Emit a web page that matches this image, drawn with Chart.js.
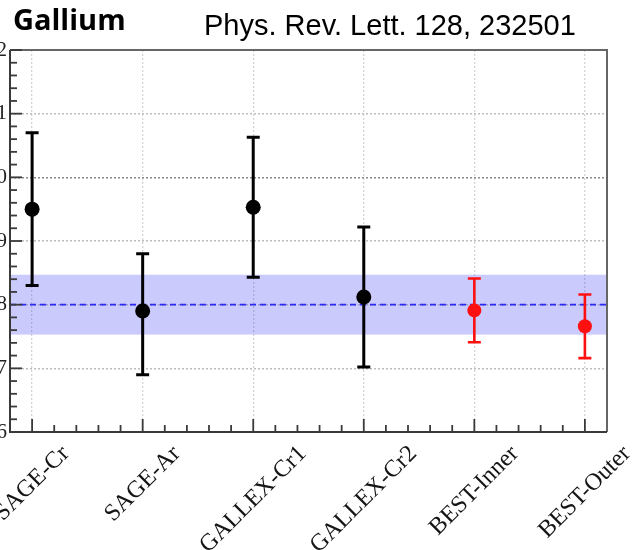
<!DOCTYPE html>
<html>
<head>
<meta charset="utf-8">
<script src="https://cdn.jsdelivr.net/npm/chart.js@4.4.1/dist/chart.umd.min.js"></script>
<style>
  html, body { margin: 0; padding: 0; background: #fff; width: 636px; height: 550px; overflow: hidden; position: relative; }
  #plot { position: absolute; left: -40px; top: 0; width: 676px; height: 550px; }
  .head { position: absolute; white-space: nowrap; color: #000; z-index: 2; }
  #title { left: 13px; top: 4px; font: bold 29px "Open Sans", "Liberation Sans", Arial, sans-serif; line-height: 29px; }
  #ref { left: 204px; top: 11px; font: 29px "Liberation Sans", Arial, sans-serif; line-height: 28px; }
</style>
</head>
<body>
<div id="title" class="head">Gallium</div>
<div id="ref" class="head">Phys. Rev. Lett. 128, 232501</div>
<canvas id="plot" width="676" height="550"></canvas>
<script>
// Measured / predicted 71Ge production-rate ratios for the gallium source experiments
const experiments = ['SAGE-Cr', 'SAGE-Ar', 'GALLEX-Cr1', 'GALLEX-Cr2', 'BEST-Inner', 'BEST-Outer'];
const ratios      = [0.950, 0.790, 0.953, 0.812, 0.791, 0.766];
const errUp       = [0.120, 0.090, 0.110, 0.110, 0.050, 0.050];
const errDown     = [0.120, 0.100, 0.110, 0.110, 0.050, 0.050];

// Combined ratio of all gallium measurements and its 1-sigma band
const combinedRatio = 0.80;
const combinedErr = 0.047;

// Axis range and tick values
const yTickValues = [0.6, 0.7, 0.8, 0.9, 1.0, 1.1, 1.2];
const yMin = 0.6, yMax = 1.2;

const SERIF = '"Liberation Serif", "Times New Roman", serif';
const isBest = name => name.startsWith('BEST');

const points = experiments.map((name, i) => ({ x: i, y: ratios[i], name }));

const galliumPlugin = {
  id: 'galliumDecor',
  beforeDatasetsDraw(chart) {
    const { ctx, chartArea: a, scales: { x, y } } = chart;
    ctx.save();
    // combined-ratio band
    const yTop = y.getPixelForValue(combinedRatio + combinedErr);
    const yBot = y.getPixelForValue(combinedRatio - combinedErr);
    ctx.fillStyle = 'rgba(60,60,245,0.27)';
    ctx.fillRect(a.left, yTop, a.right - a.left, yBot - yTop);
    // central value
    const yc = y.getPixelForValue(combinedRatio);
    ctx.strokeStyle = '#2a2af0';
    ctx.lineWidth = 1.8;
    ctx.setLineDash([6, 4]);
    ctx.beginPath();
    ctx.moveTo(a.left, yc);
    ctx.lineTo(a.right, yc);
    ctx.stroke();
    ctx.setLineDash([]);
    // asymmetric error bars
    experiments.forEach((name, i) => {
      const px = x.getPixelForValue(i);
      const pHi = y.getPixelForValue(ratios[i] + errUp[i]);
      const pLo = y.getPixelForValue(ratios[i] - errDown[i]);
      const red = isBest(name);
      ctx.strokeStyle = red ? '#ff1010' : '#000';
      ctx.lineWidth = red ? 2.6 : 3;
      const cap = 6.5;
      ctx.beginPath();
      ctx.moveTo(px, pHi); ctx.lineTo(px, pLo);
      ctx.moveTo(px - cap, pHi); ctx.lineTo(px + cap, pHi);
      ctx.moveTo(px - cap, pLo); ctx.lineTo(px + cap, pLo);
      ctx.stroke();
    });
    ctx.restore();
  },
  afterDraw(chart) {
    const { ctx, chartArea: a, scales: { x, y } } = chart;
    ctx.save();
    // frame
    ctx.lineWidth = 2;
    ctx.strokeStyle = '#666';
    ctx.beginPath();
    ctx.moveTo(a.left, a.top); ctx.lineTo(a.right, a.top); ctx.lineTo(a.right, a.bottom);
    ctx.stroke();
    ctx.strokeStyle = '#3a3a3a';
    ctx.beginPath();
    ctx.moveTo(a.left, a.top); ctx.lineTo(a.left, a.bottom); ctx.lineTo(a.right, a.bottom);
    ctx.stroke();
    // inward tick marks on the y axis (major every 0.1, minor every 0.02)
    ctx.lineWidth = 1.8;
    for (let k = 0; k <= 30; k++) {
      const v = yMin + k * 0.02;
      const py = y.getPixelForValue(v);
      const len = k % 5 === 0 ? 12 : 7;
      ctx.beginPath();
      ctx.moveTo(a.left, py); ctx.lineTo(a.left + len, py);
      ctx.stroke();
    }
    // inward tick marks on the x axis (major at each experiment, minor every 0.2)
    for (let k = -1; k <= 26; k++) {
      const v = k * 0.2;
      const px = x.getPixelForValue(v);
      if (px < a.left + 1 || px > a.right - 1) continue;
      const len = k % 5 === 0 ? 13 : 7;
      ctx.beginPath();
      ctx.moveTo(px, a.bottom); ctx.lineTo(px, a.bottom - len);
      ctx.stroke();
    }
    // rotated experiment labels, centred under each tick
    ctx.fillStyle = '#151515';
    ctx.font = '24px ' + SERIF;
    ctx.textAlign = 'center';
    ctx.textBaseline = 'middle';
    experiments.forEach((name, i) => {
      const px = x.getPixelForValue(i);
      const w = ctx.measureText(name).width;
      const cy = a.bottom + 18 + w * 0.354;
      ctx.save();
      ctx.translate(px, cy);
      ctx.rotate(-Math.PI / 4);
      ctx.fillText(name, 0, 0);
      ctx.restore();
    });
    ctx.restore();
  }
};

new Chart(document.getElementById('plot'), {
  type: 'scatter',
  data: {
    datasets: [
      {
        label: 'SAGE / GALLEX',
        data: points.filter(p => !isBest(p.name)),
        pointRadius: 7.5,
        pointBackgroundColor: '#000',
        pointBorderColor: '#000',
        pointBorderWidth: 0
      },
      {
        label: 'BEST',
        data: points.filter(p => isBest(p.name)),
        pointRadius: 7,
        pointBackgroundColor: '#ff1010',
        pointBorderColor: '#ff1010',
        pointBorderWidth: 0
      }
    ]
  },
  options: {
    responsive: false,
    animation: false,
    layout: { padding: { top: 50, right: 29, left: 0, bottom: 0 } },
    plugins: { legend: { display: false }, tooltip: { enabled: false } },
    scales: {
      x: {
        type: 'linear',
        min: -0.2,
        max: experiments.length - 0.8,
        afterBuildTicks: s => { s.ticks = experiments.map((_, i) => ({ value: i })); },
        afterFit: s => { s.height = 118; },
        ticks: { display: false },
        grid: { color: '#d4d4d4', lineWidth: 1.3, drawTicks: false },
        border: { display: false, dash: [2, 2] }
      },
      y: {
        min: yMin,
        max: yMax,
        afterBuildTicks: s => { s.ticks = yTickValues.map(v => ({ value: v })); },
        afterFit: s => { s.width = 50; },
        ticks: {
          callback: v => Number(v).toFixed(1),
          font: { family: SERIF, size: 21 },
          color: '#222',
          padding: 3
        },
        grid: {
          drawTicks: false,
          lineWidth: 1.5,
          color: c => {
            const v = c.tick ? c.tick.value : 0;
            if (Math.abs(v - yMin) < 1e-6 || Math.abs(v - yMax) < 1e-6) return 'rgba(0,0,0,0)';
            return Math.abs(v - 1.0) < 1e-6 ? '#8a8a8a' : '#bdbdbd';
          }
        },
        border: { display: false, dash: [2, 2] }
      }
    }
  },
  plugins: [galliumPlugin]
});
</script>
</body>
</html>
